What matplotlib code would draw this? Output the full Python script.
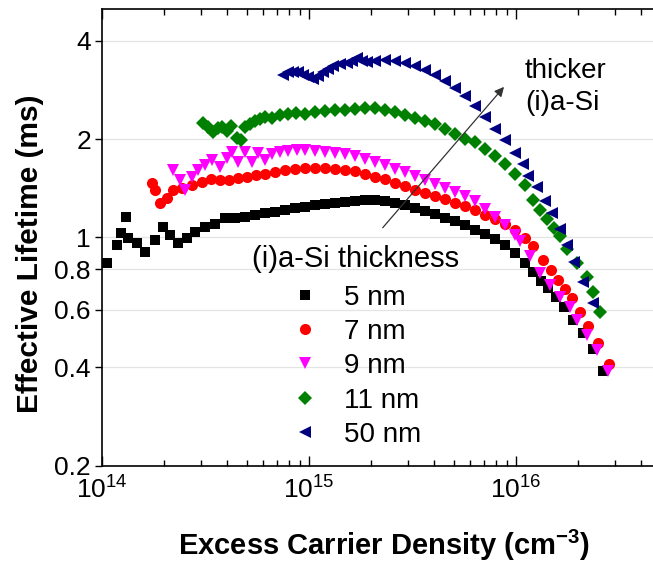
import matplotlib
matplotlib.use('Agg')
import matplotlib.pyplot as plt
from matplotlib.ticker import FixedLocator, FixedFormatter, NullLocator, LogLocator

plt.rcParams['font.family'] = ['Liberation Sans', 'DejaVu Sans']
plt.rcParams['mathtext.fontset'] = 'custom'
plt.rcParams['mathtext.rm'] = 'Liberation Sans'
plt.rcParams['mathtext.it'] = 'Liberation Sans:italic'
plt.rcParams['mathtext.bf'] = 'Liberation Sans:bold'

# ---------------- data ----------------
x_5nm = [1.057e14, 1.182e14, 1.235e14, 1.306e14, 1.335e14, 1.476e14, 1.613e14, 1.803e14, 1.971e14, 2.131e14,
         2.328e14, 2.574e14, 2.814e14, 3.145e14, 3.516e14, 3.929e14, 4.390e14, 4.908e14, 5.485e14, 6.13e14,
         6.85e14, 7.66e14, 8.56e14, 9.57e14, 1.069e15, 1.195e15, 1.335e15, 1.492e15, 1.668e15, 1.864e15,
         2.084e15, 2.329e15, 2.604e15, 2.910e15, 3.252e15, 3.635e15, 4.062e15, 4.540e15, 5.075e15, 5.672e15,
         6.339e15, 7.085e15, 7.92e15, 8.85e15, 9.89e15, 1.105e16, 1.208e16, 1.321e16, 1.428e16, 1.561e16,
         1.706e16, 1.886e16, 2.107e16, 2.355e16, 2.633e16]
y_5nm = [0.834, 0.947, 1.031, 1.157, 0.998, 0.961, 0.901, 0.981, 1.075, 1.016,
         0.961, 0.995, 1.040, 1.075, 1.100, 1.146, 1.146, 1.155, 1.170, 1.190,
         1.196, 1.213, 1.227, 1.239, 1.252, 1.261, 1.270, 1.279, 1.288, 1.297,
         1.302, 1.293, 1.275, 1.252, 1.230, 1.205, 1.179, 1.150, 1.122, 1.091,
         1.053, 1.024, 0.988, 0.946, 0.895, 0.834, 0.782, 0.734, 0.699, 0.658,
         0.611, 0.560, 0.508, 0.454, 0.391]

x_7nm = [1.744e14, 1.803e14, 1.906e14, 2.061e14, 2.203e14, 2.435e14, 2.722e14, 3.041e14, 3.362e14, 3.715e14,
         4.108e14, 4.540e14, 5.018e14, 5.546e14, 6.13e14, 6.85e14, 7.66e14, 8.56e14, 9.57e14, 1.069e15,
         1.195e15, 1.335e15, 1.492e15, 1.668e15, 1.864e15, 2.084e15, 2.329e15, 2.604e15, 2.910e15, 3.252e15,
         3.635e15, 4.062e15, 4.540e15, 5.075e15, 5.672e15, 6.339e15, 7.085e15, 7.92e15, 8.85e15, 9.89e15,
         1.105e16, 1.208e16, 1.350e16, 1.476e16, 1.596e16, 1.725e16, 1.864e16, 2.038e16, 2.227e16, 2.489e16,
         2.814e16]
y_7nm = [1.468, 1.397, 1.274, 1.320, 1.397, 1.417, 1.447, 1.479, 1.510, 1.500,
         1.500, 1.520, 1.531, 1.553, 1.564, 1.587, 1.609, 1.621, 1.633, 1.633,
         1.627, 1.621, 1.609, 1.593, 1.564, 1.531, 1.505, 1.468, 1.432, 1.397,
         1.368, 1.339, 1.307, 1.274, 1.248, 1.213, 1.170, 1.138, 1.099, 1.053,
         0.995, 0.940, 0.852, 0.794, 0.740, 0.694, 0.651, 0.590, 0.534, 0.474,
         0.411]

x_9nm = [2.203e14, 2.381e14, 2.518e14, 2.722e14, 2.910e14, 3.145e14, 3.399e14, 3.715e14, 4.017e14, 4.246e14,
         4.540e14, 4.908e14, 5.304e14, 5.669e14, 6.13e14, 6.63e14, 7.24e14, 7.92e14, 8.75e14, 9.57e14,
         1.069e15, 1.195e15, 1.335e15, 1.492e15, 1.668e15, 1.864e15, 2.084e15, 2.329e15, 2.604e15, 2.910e15,
         3.252e15, 3.635e15, 4.062e15, 4.540e15, 5.075e15, 5.672e15, 6.339e15, 7.085e15, 7.92e15, 8.85e15,
         9.89e15, 1.045e16, 1.168e16, 1.306e16, 1.460e16, 1.632e16, 1.824e16, 1.971e16, 2.203e16, 2.462e16,
         2.782e16]
y_9nm = [1.609, 1.500, 1.397, 1.531, 1.609, 1.668, 1.727, 1.644, 1.752, 1.828,
         1.703, 1.828, 1.703, 1.815, 1.727, 1.803, 1.828, 1.841, 1.854, 1.847,
         1.841, 1.828, 1.815, 1.796, 1.771, 1.740, 1.703, 1.668, 1.621, 1.581,
         1.543, 1.500, 1.458, 1.417, 1.378, 1.335, 1.293, 1.222, 1.154, 1.091,
         1.016, 0.974, 0.876, 0.777, 0.714, 0.658, 0.611, 0.557, 0.504, 0.451,
         0.391]

x_11nm = [3.076e14, 3.252e14, 3.437e14, 3.635e14, 3.800e14, 4.017e14, 4.201e14, 4.490e14, 4.694e14, 4.908e14,
          5.188e14, 5.485e14, 5.80e14, 6.13e14, 6.63e14, 7.24e14, 7.92e14, 8.65e14, 9.57e14, 1.069e15,
          1.195e15, 1.335e15, 1.492e15, 1.668e15, 1.864e15, 2.084e15, 2.329e15, 2.604e15, 2.910e15, 3.252e15,
          3.635e15, 4.062e15, 4.540e15, 5.075e15, 5.672e15, 6.339e15, 7.085e15, 7.92e15, 8.85e15, 9.89e15,
          1.105e16, 1.208e16, 1.306e16, 1.412e16, 1.526e16, 1.632e16, 1.764e16, 1.971e16, 2.203e16, 2.355e16,
          2.545e16]
y_11nm = [2.244, 2.182, 2.106, 2.166, 2.182, 2.121, 2.197, 2.018, 1.990, 2.182,
          2.228, 2.276, 2.309, 2.342, 2.325, 2.375, 2.392, 2.409, 2.392, 2.426,
          2.443, 2.460, 2.460, 2.477, 2.495, 2.486, 2.460, 2.426, 2.375, 2.325,
          2.276, 2.220, 2.151, 2.077, 2.004, 1.955, 1.867, 1.777, 1.679, 1.564,
          1.447, 1.302, 1.213, 1.138, 1.068, 1.009, 0.921, 0.834, 0.755, 0.679,
          0.590]

x_50nm = [7.49e14, 7.92e14, 8.37e14, 8.85e14, 9.36e14, 9.89e14, 1.045e15, 1.105e15, 1.168e15, 1.235e15,
          1.306e15, 1.412e15, 1.526e15, 1.61e15, 1.706e15, 1.803e15, 1.906e15, 2.084e15, 2.329e15, 2.604e15,
          2.910e15, 3.252e15, 3.635e15, 4.062e15, 4.540e15, 5.075e15, 5.672e15, 6.339e15, 7.085e15, 7.92e15,
          8.85e15, 9.89e15, 1.081e16, 1.143e16, 1.263e16, 1.381e16, 1.492e16, 1.632e16, 1.764e16, 1.906e16,
          2.107e16, 2.355e16]
y_50nm = [3.149, 3.196, 3.218, 3.196, 3.149, 3.107, 3.063, 3.128, 3.218, 3.281,
          3.334, 3.382, 3.406, 3.454, 3.528, 3.454, 3.430, 3.454, 3.479, 3.454,
          3.406, 3.334, 3.253, 3.149, 3.020, 2.874, 2.716, 2.531, 2.342, 2.151,
          1.988, 1.814, 1.679, 1.543, 1.427, 1.293, 1.187, 1.061, 0.947, 0.839,
          0.729, 0.628]

series_labels = ['5 nm', '7 nm', '9 nm', '11 nm', '50 nm']
y_ticks = [0.2, 0.4, 0.6, 0.8, 1, 2, 4]
y_tick_labels = ['0.2', '0.4', '0.6', '0.8', '1', '2', '4']

# ---------------- styles ----------------
styles = [
    dict(marker='s', color='black', ms=7.5),
    dict(marker='o', color='#ff0000', ms=8.0),
    dict(marker='v', color='#ff00ff', ms=9.0),
    dict(marker='D', color='#008000', ms=7.0),
    dict(marker='<', color='#000080', ms=9.0),
]
data = [(x_5nm, y_5nm), (x_7nm, y_7nm), (x_9nm, y_9nm), (x_11nm, y_11nm), (x_50nm, y_50nm)]

W, H = 653, 563
fig = plt.figure(figsize=(W / 100, H / 100), dpi=100)
ax_l, ax_r, ax_t, ax_b = 102, 660.7, 9, 465.7
ax = fig.add_axes([ax_l / W, 1 - ax_b / H, (ax_r - ax_l) / W, (ax_b - ax_t) / H])

for (xs, ys), lab, st in zip(data, series_labels, styles):
    ax.plot(xs, ys, linestyle='none', marker=st['marker'], color=st['color'],
            markersize=st['ms'], markeredgewidth=0, label=lab)

ax.set_xscale('log')
ax.set_yscale('log')
ax.set_xlim(1e14, 5e16)
ax.set_ylim(0.2, 5)

ax.yaxis.set_major_locator(FixedLocator(y_ticks))
ax.yaxis.set_major_formatter(FixedFormatter(y_tick_labels))
ax.yaxis.set_minor_locator(NullLocator())
ax.xaxis.set_major_locator(LogLocator(base=10, numticks=10))
ax.xaxis.set_minor_locator(LogLocator(base=10, subs=range(2, 10), numticks=20))

ax.tick_params(axis='x', which='both', direction='in', top=True, bottom=True, width=1.0, labelsize=19, pad=8)
ax.tick_params(axis='x', which='major', length=7)
ax.tick_params(axis='x', which='minor', length=4)
ax.tick_params(axis='y', which='major', direction='out', length=5, width=1.0, labelsize=19, pad=3)

for s in ax.spines.values():
    s.set_linewidth(1.2)

ax.grid(axis='y', which='major', color='#e4e4e4', linewidth=0.9)
ax.set_axisbelow(True)

ax.set_xlabel(r'Excess Carrier Density (cm$^{\mathbf{-3}}$)', fontsize=21, fontweight='bold')
ax.set_ylabel('Effective Lifetime (ms)', fontsize=21.5, fontweight='bold')
ax.xaxis.set_label_coords((384 - ax_l) / (ax_r - ax_l), (ax_b - 528) / (ax_b - ax_t))
ax.yaxis.set_label_coords((44 - ax_l) / (ax_r - ax_l), (ax_b - 254) / (ax_b - ax_t))

leg = ax.legend(title='(i)a-Si thickness', frameon=False, fontsize=20, title_fontsize=21,
                handlelength=1.0, handletextpad=0.9, labelspacing=0.3, borderpad=0.2,
                loc='upper center', bbox_to_anchor=(356 / W, 1 - 226 / H),
                bbox_transform=fig.transFigure, markerscale=1.0)
leg._legend_box.sep = 8

ax.annotate('', xy=(8.75e15, 2.888), xytext=(2.27e15, 1.07),
            arrowprops=dict(arrowstyle='-|>', color='#333333', lw=0.9, mutation_scale=14,
                            shrinkA=0, shrinkB=0))
ax.text(1.105e16, 3.55, 'thicker\n(i)a-Si', fontsize=20, va='top', ha='left', linespacing=1.3)

fig.savefig('out.png', dpi=100)
